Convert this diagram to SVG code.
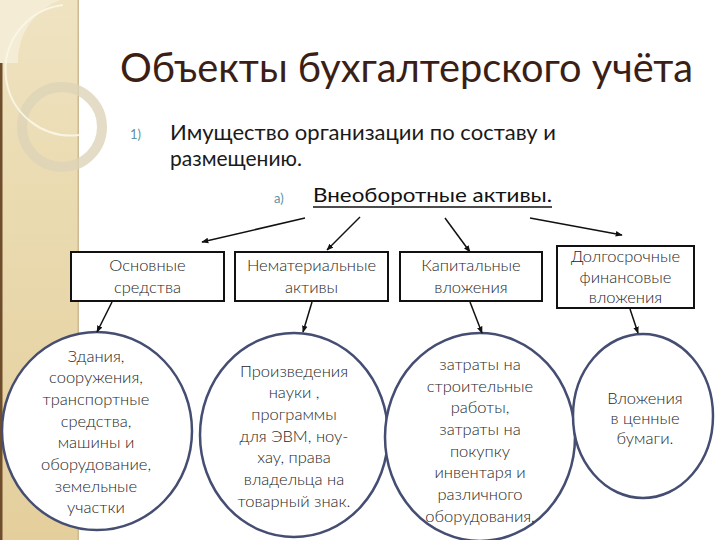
<svg xmlns="http://www.w3.org/2000/svg" width="720" height="540" viewBox="0 0 720 540">
  <defs>
    <linearGradient id="side" x1="0" y1="0" x2="0" y2="1">
      <stop offset="0" stop-color="#efe3c2"/>
      <stop offset="0.3" stop-color="#ebdcb3"/>
      <stop offset="1" stop-color="#e4cf9c"/>
    </linearGradient>
    <marker id="arr" viewBox="0 0 10 10" refX="9" refY="5" markerWidth="7" markerHeight="7" markerUnits="userSpaceOnUse" orient="auto">
      <path d="M0,1 L10,5 L0,9 z" fill="#111"/>
    </marker>
    <style>
      .t { font-family: Lato, "Open Sans", "Noto Sans", sans-serif; }
      .box rect { fill: #fff; stroke: #111; stroke-width: 2; }
      .ell ellipse { fill: #fff; stroke: #454e72; stroke-width: 2.5; }
      .lbl { font-family: Lato, "Open Sans", "Noto Sans", sans-serif; font-weight: 300; font-size: 16.5px; fill: #1e1e1e; text-anchor: middle; }
      .num { font-family: Lato, "Open Sans", "Noto Sans", sans-serif; font-size: 13px; fill: #5f92a8; }
      .conn line { stroke: #111; stroke-width: 1.5; marker-end: url(#arr); }
    </style>
  </defs>

  <rect x="0" y="0" width="720" height="540" fill="#fff"/>

  <g id="sidebar">
    <rect x="0" y="0" width="79" height="540" fill="url(#side)"/>
    <path d="M0,0 H60 A65,65 0 0 0 18,63 H0 Z" fill="#f4ecd4"/>
    <rect x="0" y="63" width="2.5" height="477" fill="#6e4d2c"/>
    <rect x="77.5" y="0" width="1.5" height="540" fill="#cdb994"/>
    <circle cx="62" cy="127" r="40" fill="none" stroke="#ddd3b8" stroke-width="10" opacity="0.8"/>
    <path d="M63,5 A65,65 0 1 0 79,135" fill="none" stroke="#fbf6e8" stroke-width="2" opacity="0.9"/>
  </g>

  <g id="title">
    <text class="t" x="120" y="82" font-size="40" fill="#3b1f16" textLength="573" lengthAdjust="spacingAndGlyphs">Объекты бухгалтерского учёта</text>
  </g>

  <g id="subheading">
    <text class="num" x="130" y="139">1)</text>
    <text class="t" x="170" y="140" font-size="21" fill="#1a1a1a" textLength="386" lengthAdjust="spacingAndGlyphs">Имущество организации по составу и</text>
    <text class="t" x="170" y="166" font-size="21" fill="#1a1a1a">размещению.</text>
  </g>

  <g id="noncurrent">
    <text class="num" x="274" y="203">а)</text>
    <text class="t" x="313" y="202" font-size="20" fill="#111" textLength="239" lengthAdjust="spacingAndGlyphs">Внеоборотные активы.</text>
    <line x1="313" y1="207" x2="552" y2="207" stroke="#111" stroke-width="1.5"/>
  </g>

  <g id="box-fixed" class="box">
    <rect x="71" y="252" width="153" height="49"/>
    <text class="lbl" x="147.5" y="271">Основные</text>
    <text class="lbl" x="147.5" y="293">средства</text>
  </g>
  <g id="box-intangible" class="box">
    <rect x="235" y="252" width="153" height="49"/>
    <text class="lbl" x="311.5" y="271">Нематериальные</text>
    <text class="lbl" x="311.5" y="293">активы</text>
  </g>
  <g id="box-capital" class="box">
    <rect x="400" y="252" width="142" height="49"/>
    <text class="lbl" x="471" y="271">Капитальные</text>
    <text class="lbl" x="471" y="293">вложения</text>
  </g>
  <g id="box-financial" class="box">
    <rect x="557" y="246" width="137" height="62"/>
    <text class="lbl" x="625.5" y="262">Долгосрочные</text>
    <text class="lbl" x="625.5" y="283">финансовые</text>
    <text class="lbl" x="625.5" y="303">вложения</text>
  </g>

  <g id="circle-fixed" class="ell">
    <ellipse cx="97" cy="431" rx="95" ry="99"/>
    <text class="lbl" x="96" y="362">Здания,</text>
    <text class="lbl" x="96" y="383">сооружения,</text>
    <text class="lbl" x="96" y="405">транспортные</text>
    <text class="lbl" x="96" y="427">средства,</text>
    <text class="lbl" x="96" y="448">машины и</text>
    <text class="lbl" x="96" y="470">оборудование,</text>
    <text class="lbl" x="96" y="492">земельные</text>
    <text class="lbl" x="96" y="513">участки</text>
  </g>
  <g id="circle-intangible" class="ell">
    <ellipse cx="294" cy="435" rx="94" ry="102"/>
    <text class="lbl" x="294" y="377">Произведения</text>
    <text class="lbl" x="294" y="398">науки ,</text>
    <text class="lbl" x="294" y="420">программы</text>
    <text class="lbl" x="294" y="442">для ЭВМ, ноу-</text>
    <text class="lbl" x="294" y="463">хау,  права</text>
    <text class="lbl" x="294" y="485">владельца на</text>
    <text class="lbl" x="294" y="507">товарный знак.</text>
  </g>
  <g id="circle-capital" class="ell">
    <ellipse cx="480" cy="437" rx="95" ry="104"/>
    <text class="lbl" x="480" y="370">затраты на</text>
    <text class="lbl" x="480" y="392">строительные</text>
    <text class="lbl" x="480" y="413">работы,</text>
    <text class="lbl" x="480" y="435">затраты на</text>
    <text class="lbl" x="480" y="457">покупку</text>
    <text class="lbl" x="480" y="478">инвентаря и</text>
    <text class="lbl" x="480" y="500">различного</text>
    <text class="lbl" x="480" y="522">оборудования,</text>
  </g>
  <g id="circle-financial" class="ell">
    <ellipse cx="643" cy="416" rx="70" ry="82"/>
    <text class="lbl" x="645" y="404">Вложения</text>
    <text class="lbl" x="645" y="424">в ценные</text>
    <text class="lbl" x="645" y="444">бумаги.</text>
  </g>

  <g id="connectors" class="conn">
    <line x1="305" y1="218" x2="202" y2="242"/>
    <line x1="360" y1="217" x2="327" y2="250"/>
    <line x1="445" y1="218" x2="470" y2="252"/>
    <line x1="530" y1="218" x2="622" y2="235"/>
    <line x1="112" y1="302" x2="97" y2="332"/>
    <line x1="312" y1="302" x2="303" y2="332"/>
    <line x1="470" y1="302" x2="482" y2="333"/>
    <line x1="630" y1="309" x2="638" y2="333"/>
  </g>
</svg>
